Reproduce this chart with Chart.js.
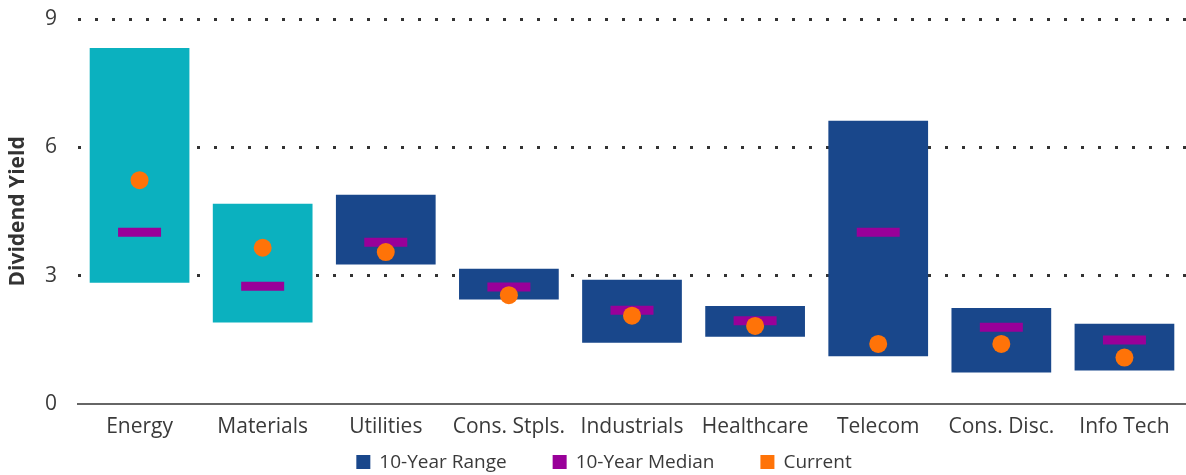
<!DOCTYPE html>
<html>
<head>
<meta charset="utf-8">
<script src="https://cdn.jsdelivr.net/npm/chart.js@4"></script>
<style>
  html, body { margin: 0; padding: 0; background: #fff; }
  #wrap { width: 1186px; height: 475px; }
</style>
</head>
<body>
<div id="wrap"><canvas id="yieldChart"></canvas></div>
<script>
const sectors = ["Energy", "Materials", "Utilities", "Cons. Stpls.", "Industrials", "Healthcare", "Telecom", "Cons. Disc.", "Info Tech"];
const rangeLow = [2.83, 1.90, 3.26, 2.44, 1.43, 1.57, 1.11, 0.73, 0.78];
const rangeHigh = [8.32, 4.68, 4.89, 3.16, 2.90, 2.29, 6.62, 2.24, 1.87];
const median = [4.01, 2.75, 3.78, 2.73, 2.19, 1.94, 4.01, 1.79, 1.49];
const current = [5.23, 3.65, 3.55, 2.54, 2.06, 1.82, 1.40, 1.40, 1.08];
const yTicks = [0, 3, 6, 9];
const legendNames = ["10-Year Range", "10-Year Median", "Current"];

const teal = "#0bb1bf";
const navy = "#19478b";
const purple = "#990099";
const orange = "#ff7308";
const textColor = "#3a3a3a";

// first two sectors highlighted in teal
const barColors = sectors.map((s, i) => i < 2 ? teal : navy);
const legendColors = [navy, purple, orange];

Chart.defaults.font.family = "'Open Sans', sans-serif";
Chart.defaults.color = textColor;

// simple legend drawn under the x labels
const bottomLegend = {
  id: 'bottomLegend',
  afterDraw(chart) {
    const c = chart.ctx;
    const box = 14, gap = 9, spacing = 46;
    c.save();
    c.font = "19px 'Open Sans', sans-serif";
    c.textBaseline = 'middle';
    c.textAlign = 'left';
    const widths = legendNames.map(t => c.measureText(t).width);
    const total = widths.reduce((a, w) => a + box + gap + w, 0) + spacing * (legendNames.length - 1);
    let x = 604 - total / 2;
    const y = 462;
    legendNames.forEach((t, i) => {
      c.fillStyle = legendColors[i];
      c.fillRect(x, y - box / 2, box, box);
      c.fillStyle = textColor;
      c.fillText(t, x + box + gap, y + 1);
      x += box + gap + widths[i] + spacing;
    });
    c.restore();
  }
};

const ctx = document.getElementById('yieldChart').getContext('2d');
new Chart(ctx, {
  data: {
    labels: sectors,
    datasets: [
      {
        type: 'bar',
        label: legendNames[0],
        data: sectors.map((s, i) => [rangeLow[i], rangeHigh[i]]),
        backgroundColor: barColors,
        borderWidth: 0,
        barPercentage: 0.81,
        categoryPercentage: 1,
        order: 3
      },
      {
        type: 'line',
        label: legendNames[1],
        data: median,
        showLine: false,
        pointStyle: 'line',
        pointRadius: 21.5,
        pointHoverRadius: 21.5,
        borderColor: purple,
        pointBorderWidth: 9,
        pointHoverBorderWidth: 9,
        clip: false,
        order: 2
      },
      {
        type: 'line',
        label: legendNames[2],
        data: current,
        showLine: false,
        pointRadius: 9,
        pointHoverRadius: 9,
        backgroundColor: orange,
        borderColor: orange,
        pointBorderWidth: 0,
        clip: false,
        order: 1
      }
    ]
  },
  options: {
    responsive: true,
    maintainAspectRatio: false,
    animation: false,
    events: [],
    layout: { autoPadding: false, padding: { top: 0, right: -5, left: 0, bottom: 24 } },
    plugins: {
      tooltip: { enabled: false },
      legend: { display: false }
    },
    scales: {
      x: {
        grid: { display: false, drawTicks: false },
        border: { display: true, color: "#666", width: 2 },
        ticks: { font: { size: 21 }, padding: 11, color: textColor },
        afterFit: axis => { axis.paddingRight = -5; }
      },
      y: {
        min: 0,
        max: 9,
        afterBuildTicks: axis => { axis.ticks = yTicks.map(v => ({ value: v })); },
        afterFit: axis => {
          axis.width = 78;
          axis.paddingTop = 19;
          axis.paddingBottom = 13;
          axis.paddingRight = -5;
        },
        grid: {
          drawTicks: false,
          lineWidth: 3,
          color: c => c.tick && c.tick.value === 0 ? 'rgba(0,0,0,0)' : "#333"
        },
        border: { display: false, dash: [3, 14] },
        ticks: { font: { size: 21 }, padding: 21, color: textColor },
        title: {
          display: true,
          text: "Dividend Yield",
          font: { size: 21, weight: 'bold' },
          color: "#333",
          padding: { top: 5, bottom: 0 }
        }
      }
    }
  },
  plugins: [bottomLegend]
});
</script>
</body>
</html>
